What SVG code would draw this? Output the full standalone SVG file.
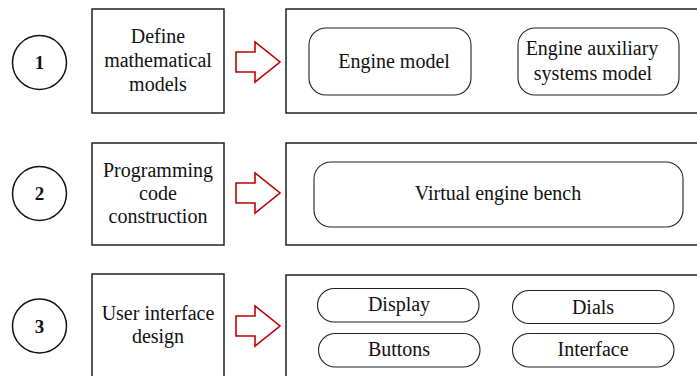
<svg xmlns="http://www.w3.org/2000/svg" width="697" height="376" viewBox="0 0 697 376">
  <style>
    .box { fill: #fff; stroke: #222; stroke-width: 1.5; }
    .pill { fill: #fff; stroke: #222; stroke-width: 1.1; }
    .step { fill: #fff; stroke: #111; stroke-width: 1.5; }
    .arrow { fill: #fff; stroke: #c00000; stroke-width: 1.6; stroke-linejoin: miter; }
    text { font-family: "Liberation Serif", "Times New Roman", serif; font-size: 20px; fill: #111; text-anchor: middle; }
    .num { font-weight: bold; font-size: 19px; }
  </style>
  <defs>
    <!-- hollow block arrow pointing right, origin at the tail centre -->
    <polygon id="fatArrow" points="0,-10 19,-10 19,-20 44,0 19,20 19,10 0,10"/>
  </defs>

  <rect width="697" height="376" fill="#fff"/>

  <!-- Step 1 -->
  <g id="step1">
    <circle class="step" cx="39.5" cy="62.5" r="27"/>
    <text class="num" x="39.5" y="69">1</text>
  </g>
  <g id="define-models">
    <rect class="box" x="92" y="9" width="132" height="104"/>
    <text x="158" y="43">Define</text>
    <text x="158" y="67">mathematical</text>
    <text x="158" y="90.5">models</text>
  </g>
  <g id="models-panel">
    <rect class="box" x="286" y="9" width="420" height="104"/>
    <g id="engine-model">
      <rect class="pill" x="309" y="28" width="162" height="67" rx="17"/>
      <text x="394" y="68">Engine model</text>
    </g>
    <g id="aux-model">
      <rect class="pill" x="518" y="28" width="161" height="67" rx="17"/>
      <text x="592" y="55">Engine auxiliary</text>
      <text x="593" y="80">systems model</text>
    </g>
  </g>

  <!-- Step 2 -->
  <g id="step2">
    <circle class="step" cx="39.5" cy="193.5" r="27"/>
    <text class="num" x="39.5" y="200">2</text>
  </g>
  <g id="code-construction">
    <rect class="box" x="92" y="143" width="132" height="102"/>
    <text x="158" y="176.5">Programming</text>
    <text x="158" y="199.5">code</text>
    <text x="158" y="222.5">construction</text>
  </g>
  <g id="bench-panel">
    <rect class="box" x="286" y="143" width="420" height="102"/>
    <g id="virtual-bench">
      <rect class="pill" x="314" y="162" width="369" height="65" rx="17"/>
      <text x="498" y="200">Virtual engine bench</text>
    </g>
  </g>

  <!-- Step 3 -->
  <g id="step3">
    <circle class="step" cx="39.5" cy="326" r="27"/>
    <text class="num" x="39.5" y="332.5">3</text>
  </g>
  <g id="ui-design">
    <rect class="box" x="92" y="274" width="132" height="110"/>
    <text x="158" y="320">User interface</text>
    <text x="158" y="343">design</text>
  </g>
  <g id="ui-panel">
    <rect class="box" x="286" y="275" width="420" height="110"/>
    <g id="display">
      <rect class="pill" x="317.5" y="288.5" width="161.5" height="33.5" rx="16.75"/>
      <text x="399" y="311">Display</text>
    </g>
    <g id="dials">
      <rect class="pill" x="512.5" y="290.5" width="161.5" height="33" rx="16.5"/>
      <text x="593" y="313.5">Dials</text>
    </g>
    <g id="buttons">
      <rect class="pill" x="318.5" y="333.5" width="161.5" height="33.5" rx="16.75"/>
      <text x="399" y="356">Buttons</text>
    </g>
    <g id="interface">
      <rect class="pill" x="512.5" y="333.5" width="161.5" height="33.5" rx="16.75"/>
      <text x="593" y="356">Interface</text>
    </g>
  </g>

  <!-- Connectors -->
  <g id="connectors">
    <use href="#fatArrow" class="arrow" x="236" y="62"/>
    <use href="#fatArrow" class="arrow" x="236" y="193"/>
    <use href="#fatArrow" class="arrow" x="236" y="326"/>
  </g>
</svg>
